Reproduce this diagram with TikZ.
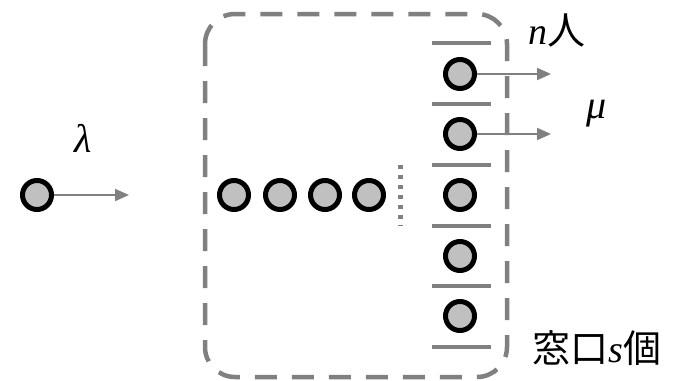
\documentclass[tikz,border=0pt]{standalone}
\usepackage{fontspec}
\setmainfont{Liberation Serif}
\newfontfamily\jpfont{Noto Sans CJK JP}
\usetikzlibrary{arrows.meta}
\definecolor{barcol}{HTML}{808080}
\definecolor{custfill}{HTML}{C0C0C0}
\begin{document}
\begin{tikzpicture}[x=1pt,y=-1pt,
  cust/.style={circle, draw=black, line width=5pt, fill=custfill, minimum size=29pt, inner sep=0pt},
  bar/.style={draw=barcol, line width=4.5pt},
  flow/.style={draw=barcol, line width=2pt, -{Triangle[length=14pt,width=12pt]}},
  boxline/.style={draw=barcol, line width=4.5pt, dash pattern=on 22pt off 15pt, rounded corners=30pt},
  dotline/.style={draw=barcol, line width=5pt, dash pattern=on 4pt off 6pt},
  lbl/.style={inner sep=0pt, font=\fontsize{38}{44}\selectfont},
  glbl/.style={inner sep=0pt, font=\fontsize{40}{46}\selectfont}]
\useasboundingbox (0,0) rectangle (679,380);

% system boundary
\draw[boxline] (205,14) rectangle (507,377);

% arriving customer
\node[cust] (c0) at (37,195) {};
\coordinate (a0) at (129,195);
\draw[flow] (c0.east) -- (a0);
\node[glbl] (lam) at (83,138) {\itshape λ};

% queue
\node[cust] (q1) at (234,195) {};
\node[cust] (q2) at (280,195) {};
\node[cust] (q3) at (325,195) {};
\node[cust] (q4) at (369,195) {};
\coordinate (d1) at (400,165);
\coordinate (d2) at (400,226);
\draw[dotline] (d1) -- (d2);

% windows
\foreach \y in {43,104,165,226,286,347}
  \draw[bar] (432,\y) -- (491,\y);
\node[cust] (w1) at (460,74) {};
\node[cust] (w2) at (460,134) {};
\node[cust] (w3) at (460,195) {};
\node[cust] (w4) at (460,256) {};
\node[cust] (w5) at (460,316) {};
\coordinate (e1) at (551,74);
\coordinate (e2) at (551,134);
\draw[flow] (w1.east) -- (e1);
\draw[flow] (w2.east) -- (e2);

% labels
\node[lbl] (nlab) at (557,30) {\itshape n\jpfont\upshape 人};
\node[glbl] (mu) at (597,114) {\itshape μ};
\node[lbl] (slab) at (597,348) {\jpfont 窓口\rmfamily\itshape s\jpfont\upshape 個};
\end{tikzpicture}
\end{document}
